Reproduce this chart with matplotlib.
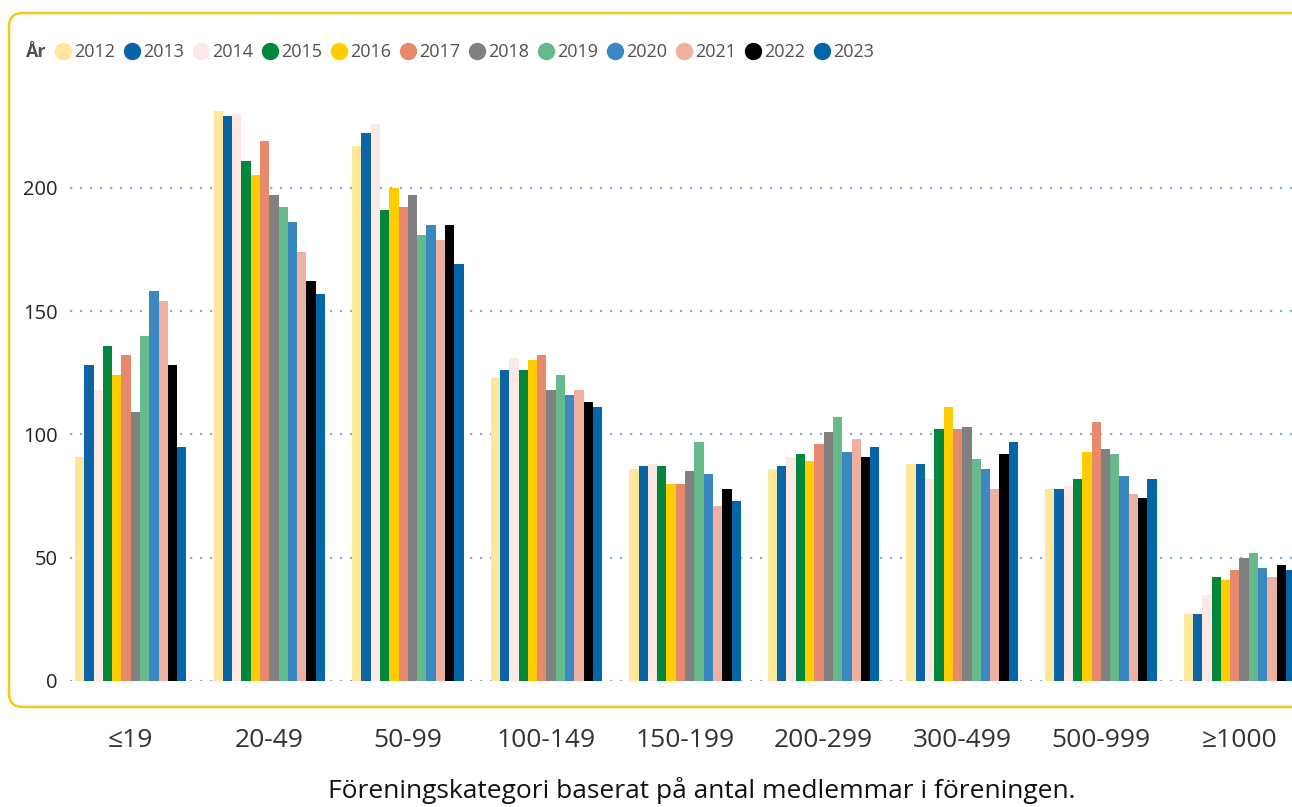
import numpy as np
import matplotlib
matplotlib.use("Agg")
import matplotlib.pyplot as plt
from matplotlib.lines import Line2D
from matplotlib.patches import FancyBboxPatch
from matplotlib.transforms import IdentityTransform

plt.rcParams['font.family'] = ['Open Sans', 'DejaVu Sans']

# DATA
categories = ["≤19", "20-49", "50-99", "100-149", "150-199",
              "200-299", "300-499", "500-999", "≥1000"]
years = ["2012", "2013", "2014", "2015", "2016", "2017",
         "2018", "2019", "2020", "2021", "2022", "2023"]

v2012 = [91, 231, 217, 123, 86, 86, 88, 78, 27]
v2013 = [128, 229, 222, 126, 87, 87, 88, 78, 27]
v2014 = [118, 230, 226, 131, 88, 91, 82, 79, 35]
v2015 = [136, 211, 191, 126, 87, 92, 102, 82, 42]
v2016 = [124, 205, 200, 130, 80, 89, 111, 93, 41]
v2017 = [132, 219, 192, 132, 80, 96, 102, 105, 45]
v2018 = [109, 197, 197, 118, 85, 101, 103, 94, 50]
v2019 = [140, 192, 181, 124, 97, 107, 90, 92, 52]
v2020 = [158, 186, 185, 116, 84, 93, 86, 83, 46]
v2021 = [154, 174, 179, 118, 71, 98, 78, 76, 42]
v2022 = [128, 162, 185, 113, 78, 91, 92, 74, 47]
v2023 = [95, 157, 169, 111, 73, 95, 97, 82, 45]
series = [v2012, v2013, v2014, v2015, v2016, v2017,
          v2018, v2019, v2020, v2021, v2022, v2023]

colors = ["#FDE79B", "#0B64A6", "#FCE8E4", "#00873C", "#FFCC00", "#E8896E",
          "#808080", "#66B98A", "#3A88C2", "#EEB1A0", "#000000", "#0066A8"]

W, H = 1292, 807
fig = plt.figure(figsize=(W / 100, H / 100), dpi=100)
fig.patch.set_facecolor("white")

ax_left, ax_right = 70, 1292
ax_top, ax_bottom = 95, 681
ax = fig.add_axes([ax_left / W, (H - ax_bottom) / H,
                   (ax_right - ax_left) / W, (ax_bottom - ax_top) / H])

# PLOT
x = np.arange(len(categories))
group = 0.805
bw = group / len(years)
for j, (yr, vals) in enumerate(zip(years, series)):
    ax.bar(x - group / 2 + (j + 0.5) * bw, vals, width=bw,
           color=colors[j], label=yr, zorder=2)

ax.set_xlim(-0.438, 8.379)
ax.set_ylim(0, 237.6)
ax.set_yticks([0, 50, 100, 150, 200])
ax.yaxis.grid(True, linestyle=(0, (1, 3.5)), color="#8AAED6", linewidth=1.6, zorder=1)
ax.set_axisbelow(True)
for s in ax.spines.values():
    s.set_visible(False)
ax.tick_params(axis="y", length=0, pad=9, labelsize=14.5, labelcolor="#252423")
ax.set_xticks(x)
ax.set_xticklabels(categories)
ax.tick_params(axis="x", length=0, pad=34, labelsize=19, labelcolor="#333333")

fig.text(702 / W, 1 - 791 / H, "Föreningskategori baserat på antal medlemmar i föreningen.",
         ha="center", va="center", fontsize=19, color="#111111")

# legend
handles = [Line2D([], [], linestyle="none", marker="o", markersize=11.5,
                  markerfacecolor=c, markeredgecolor=c) for c in colors]
fig.text(25 / W, 1 - 52 / H, "År", ha="left", va="center", fontsize=13,
         fontweight="bold", color="#505050")
leg = fig.legend(handles, years, loc="center left",
                 bbox_to_anchor=(56 / W, 1 - 52 / H), ncol=12, frameon=False,
                 handlelength=0.8, handletextpad=0.2, columnspacing=0.55,
                 borderpad=0, borderaxespad=0, fontsize=13)
for t in leg.get_texts():
    t.set_color("#505050")

# yellow frame
frame = FancyBboxPatch((9, H - 707), 1400, 707 - 13,
                       boxstyle="round,pad=0,rounding_size=14",
                       transform=IdentityTransform(), facecolor="none",
                       edgecolor="#F5C816", linewidth=1.8, zorder=0)
fig.add_artist(frame)

fig.savefig("out.png", dpi=100)
